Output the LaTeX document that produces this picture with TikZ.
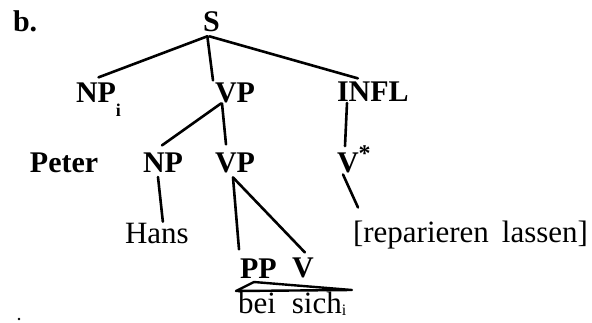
\documentclass[tikz,border=0pt]{standalone}
\usepackage{fontspec}
\setmainfont{Liberation Serif}
\usetikzlibrary{calc}
\begin{document}
\begin{tikzpicture}[x=1pt,y=-1pt,
  lab/.style={inner sep=0pt,outer sep=0pt,font=\fontsize{30}{30}\selectfont\bfseries},
  word/.style={inner sep=0pt,outer sep=0pt,font=\fontsize{31}{31}\selectfont},
  branch/.style={line width=2.6pt,line cap=round}]
\useasboundingbox (0,0) rectangle (592,322);
\node[lab,anchor=base west] (b) at (13,31) {b.};
\node[lab,anchor=base west] (S) at (203,31) {S};
\node[lab,anchor=base west] (NPi) at (76,102) {NP\raisebox{-14pt}{\fontsize{18}{18}\selectfont i}};
\node[lab,anchor=base west] (VPa) at (215,102) {VP};
\node[lab,anchor=base west] (INFL) at (337,101) {INFL};
\node[lab,anchor=base west] (Peter) at (30,172) {Peter};
\node[lab,anchor=base west] (NPb) at (143,172) {NP};
\node[lab,anchor=base west] (VPb) at (215,172) {VP};
\node[lab,anchor=base west] (Vstar) at (337,172) {V\raisebox{11pt}{\fontsize{24}{24}\selectfont *}};
\node[word,anchor=base west] (Hans) at (125,243) {Hans};
\node[word,anchor=base west] (rep) at (353,242) {[reparieren\hspace{13pt}lassen]};
\node[lab,anchor=base west] (PP) at (240,278) {PP};
\node[lab,anchor=base west] (V) at (292,277) {V};
\node[word,anchor=base west] (bs) at (238,313) {bei\hspace{16pt}sich\raisebox{-2pt}{\fontsize{16}{16}\selectfont i}};
\draw[branch] ($(S.south)+(-4,5)$) -- ($(NPi.north)+(0,-5)$);
\draw[branch] ($(S.south)+(-4,5)$) -- ($(VPa.north west)+(-2,-2)$);
\draw[branch] ($(S.south)+(-2,5)$) -- ($(INFL.north)+(-15,-3)$);
\draw[branch] ($(VPa.south west)+(6,1)$) -- ($(NPb.north)+(-1,-7)$);
\draw[branch] ($(VPa.south west)+(7,1)$) -- ($(VPb.north)+(-9,-8)$);
\draw[branch] ($(INFL.south west)+(10,2)$) -- ($(Vstar.north west)+(8,1)$);
\draw[branch] ($(NPb.south)+(-5,5)$) -- ($(Hans.north)+(6,-1)$);
\draw[branch] ($(VPb.south west)+(18,5)$) -- ($(PP.north west)+(-1,-9)$);
\draw[branch] ($(VPb.south west)+(18,5)$) -- ($(V.north)+(2,-5)$);
\draw[branch] ($(Vstar.south west)+(6,2)$) -- ($(rep.north west)+(5,-13)$);
\draw[line width=2.4pt,line join=round] (254,282) -- (352,290) -- (236,291) -- cycle;
\fill (19,319) circle (1.3);
\end{tikzpicture}
\end{document}
